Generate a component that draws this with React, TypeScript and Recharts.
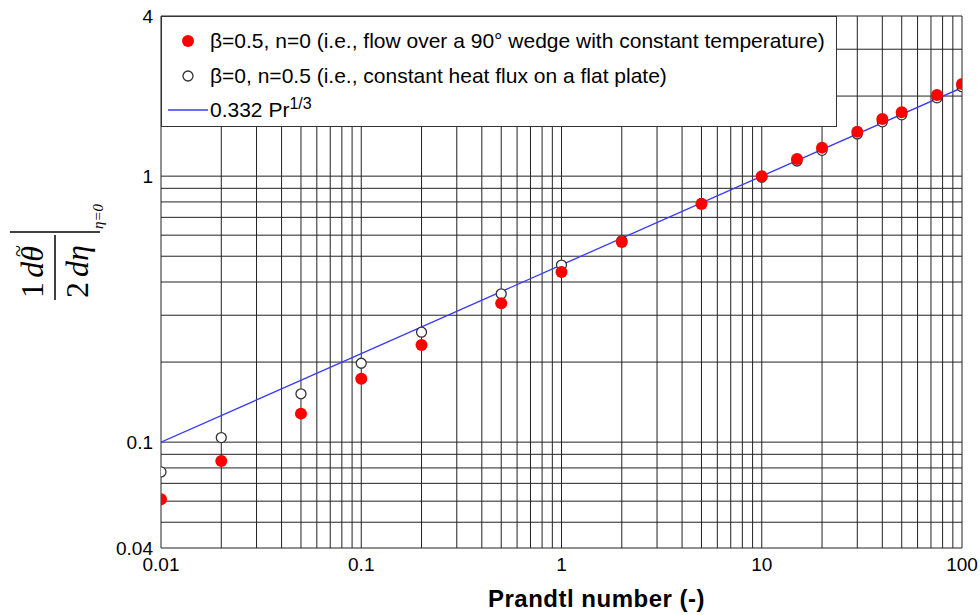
import React from "react";
import { ComposedChart, Scatter, Line, XAxis, YAxis, CartesianGrid } from "recharts";

// Prandtl numbers of the computed points
const prandtl = [0.01, 0.02, 0.05, 0.1, 0.2, 0.5, 1, 2, 5, 10, 15, 20, 30, 40, 50, 75, 100];
// beta=0.5, n=0 (red, filled)
const wedgeValues = [0.061, 0.085, 0.128, 0.173, 0.232, 0.333, 0.436, 0.566, 0.785, 1.0, 1.16, 1.28, 1.47, 1.64, 1.74, 2.02, 2.22];
// beta=0, n=0.5 (open circles)
const plateValues = [0.0773, 0.104, 0.152, 0.198, 0.259, 0.361, 0.463, 0.572, 0.79, 0.99, 1.14, 1.25, 1.44, 1.6, 1.7, 1.97, 2.17];
// 0.332 Pr^1/3 reference line
const linePr = [0.01, 0.1, 1, 10, 100];
const lineValues = [0.1, 0.215, 0.464, 1.0, 2.15];

const xGridTicks = [
	0.01, 0.02, 0.03, 0.04, 0.05, 0.06, 0.07, 0.08, 0.09,
	0.1, 0.2, 0.3, 0.4, 0.5, 0.6, 0.7, 0.8, 0.9,
	1, 2, 3, 4, 5, 6, 7, 8, 9,
	10, 20, 30, 40, 50, 60, 70, 80, 90, 100,
];
const xLabels = [0.01, 0.1, 1, 10, 100];
const yGridTicks = [
	0.04, 0.05, 0.06, 0.07, 0.08, 0.09,
	0.1, 0.2, 0.3, 0.4, 0.5, 0.6, 0.7, 0.8, 0.9,
	1, 2, 3, 4,
];
const yLabels = [0.04, 0.1, 1, 4];

const wedgeData = prandtl.map((pr, i) => ({ pr, v: wedgeValues[i] }));
const plateData = prandtl.map((pr, i) => ({ pr, v: plateValues[i] }));
const lineData = linePr.map((pr, i) => ({ pr, v: lineValues[i] }));

const sans = "'Liberation Sans', Arial, sans-serif";
const serif = "'Liberation Serif', 'Times New Roman', serif";

const showLabel = (list: number[]) => (v: number) =>
	list.some((l) => Math.abs(l - v) < l * 1e-6) ? String(v) : "";

const RedDot = (props: any) => <circle cx={props.cx} cy={props.cy} r={6} fill="#ff0000" />;
const OpenDot = (props: any) => (
	<circle cx={props.cx} cy={props.cy} r={5} fill="#fff" stroke="#333" strokeWidth={1.3} />
);

function YLabel() {
	return (
		<svg width={130} height={615} style={{ position: "absolute", left: 0, top: 0 }}>
			<g transform="translate(55,268) rotate(-90)" fontFamily={serif} fill="#000">
				<text x={-22} y={-12} fontSize={32} textAnchor="middle">1</text>
				<text x={-22} y={33} fontSize={32} textAnchor="middle">2</text>
				<line x1={-32} x2={33} y1={0} y2={0} stroke="#000" strokeWidth={1.5} />
				<text x={6} y={-12} fontSize={32} fontStyle="italic" textAnchor="middle">dθ</text>
				<text x={17} y={-30} fontSize={22} textAnchor="middle">~</text>
				<text x={7} y={33} fontSize={32} fontStyle="italic" textAnchor="middle">dη</text>
				<line x1={36} x2={36} y1={-45} y2={45} stroke="#000" strokeWidth={1.5} />
				<text x={39} y={48} fontSize={15} fontStyle="italic">η=0</text>
			</g>
		</svg>
	);
}

function LegendBox() {
	const row: React.CSSProperties = {
		position: "absolute",
		left: 48,
		fontFamily: sans,
		fontSize: 21,
		lineHeight: "24px",
		whiteSpace: "nowrap",
		color: "#000",
	};
	return (
		<div
			style={{
				position: "absolute",
				left: 161,
				top: 16,
				width: 676,
				height: 111,
				background: "#fff",
				border: "1.5px solid #333",
				boxSizing: "border-box",
			}}
		>
			<svg width={50} height={110} style={{ position: "absolute", left: 0, top: 0 }}>
				<circle cx={26} cy={24} r={6} fill="#ff0000" />
				<circle cx={26} cy={59} r={5} fill="#fff" stroke="#333" strokeWidth={1.3} />
				<line x1={6} x2={46} y1={93} y2={93} stroke="#3a3aff" strokeWidth={1.3} />
			</svg>
			<div style={{ ...row, top: 12 }}>β=0.5, n=0 (i.e., flow over a 90° wedge with constant temperature)</div>
			<div style={{ ...row, top: 47 }}>β=0, n=0.5 (i.e., constant heat flux on a flat plate)</div>
			<div style={{ ...row, top: 81 }}>
				0.332 Pr<sup style={{ fontSize: 16, verticalAlign: "8px", lineHeight: 0 }}>1/3</sup>
			</div>
		</div>
	);
}

export default function App() {
	return (
		<div style={{ position: "relative", width: 980, height: 615, background: "#fff" }}>
			<style>{"body{margin:0}"}</style>
			<ComposedChart
				width={980}
				height={615}
				margin={{ top: 16, right: 18, left: 0, bottom: 0 }}
			>
				<CartesianGrid stroke="#222" strokeWidth={1} />
				<XAxis
					dataKey="pr"
					type="number"
					scale="log"
					domain={[0.01, 100]}
					ticks={xGridTicks}
					interval={0}
					allowDataOverflow
					tickFormatter={showLabel(xLabels)}
					tickLine={false}
					axisLine={false}
					tickSize={0}
					tickMargin={10}
					height={67}
					tick={{ fill: "#000", fontSize: 19, fontFamily: sans }}
					label={{
						value: "Prandtl number (-)",
						position: "insideBottom",
						offset: 8,
						dx: 35,
						fill: "#000",
						fontSize: 24,
						fontWeight: "bold",
						fontFamily: sans,
						letterSpacing: 0.5,
					}}
				/>
				<YAxis
					dataKey="v"
					type="number"
					scale="log"
					domain={[0.04, 4]}
					ticks={yGridTicks}
					interval={0}
					allowDataOverflow
					tickFormatter={showLabel(yLabels)}
					tickLine={false}
					axisLine={false}
					tickSize={0}
					tickMargin={8}
					width={161}
					tick={{ fill: "#000", fontSize: 19, fontFamily: sans }}
				/>
				<Scatter data={plateData} dataKey="v" shape={OpenDot} isAnimationActive={false} />
				<Line
					data={lineData}
					dataKey="v"
					type="linear"
					stroke="#3a3aff"
					strokeWidth={1.3}
					dot={false}
					activeDot={false}
					isAnimationActive={false}
				/>
				<Scatter data={wedgeData} dataKey="v" shape={RedDot} isAnimationActive={false} />
			</ComposedChart>
			<YLabel />
			<LegendBox />
		</div>
	);
}
